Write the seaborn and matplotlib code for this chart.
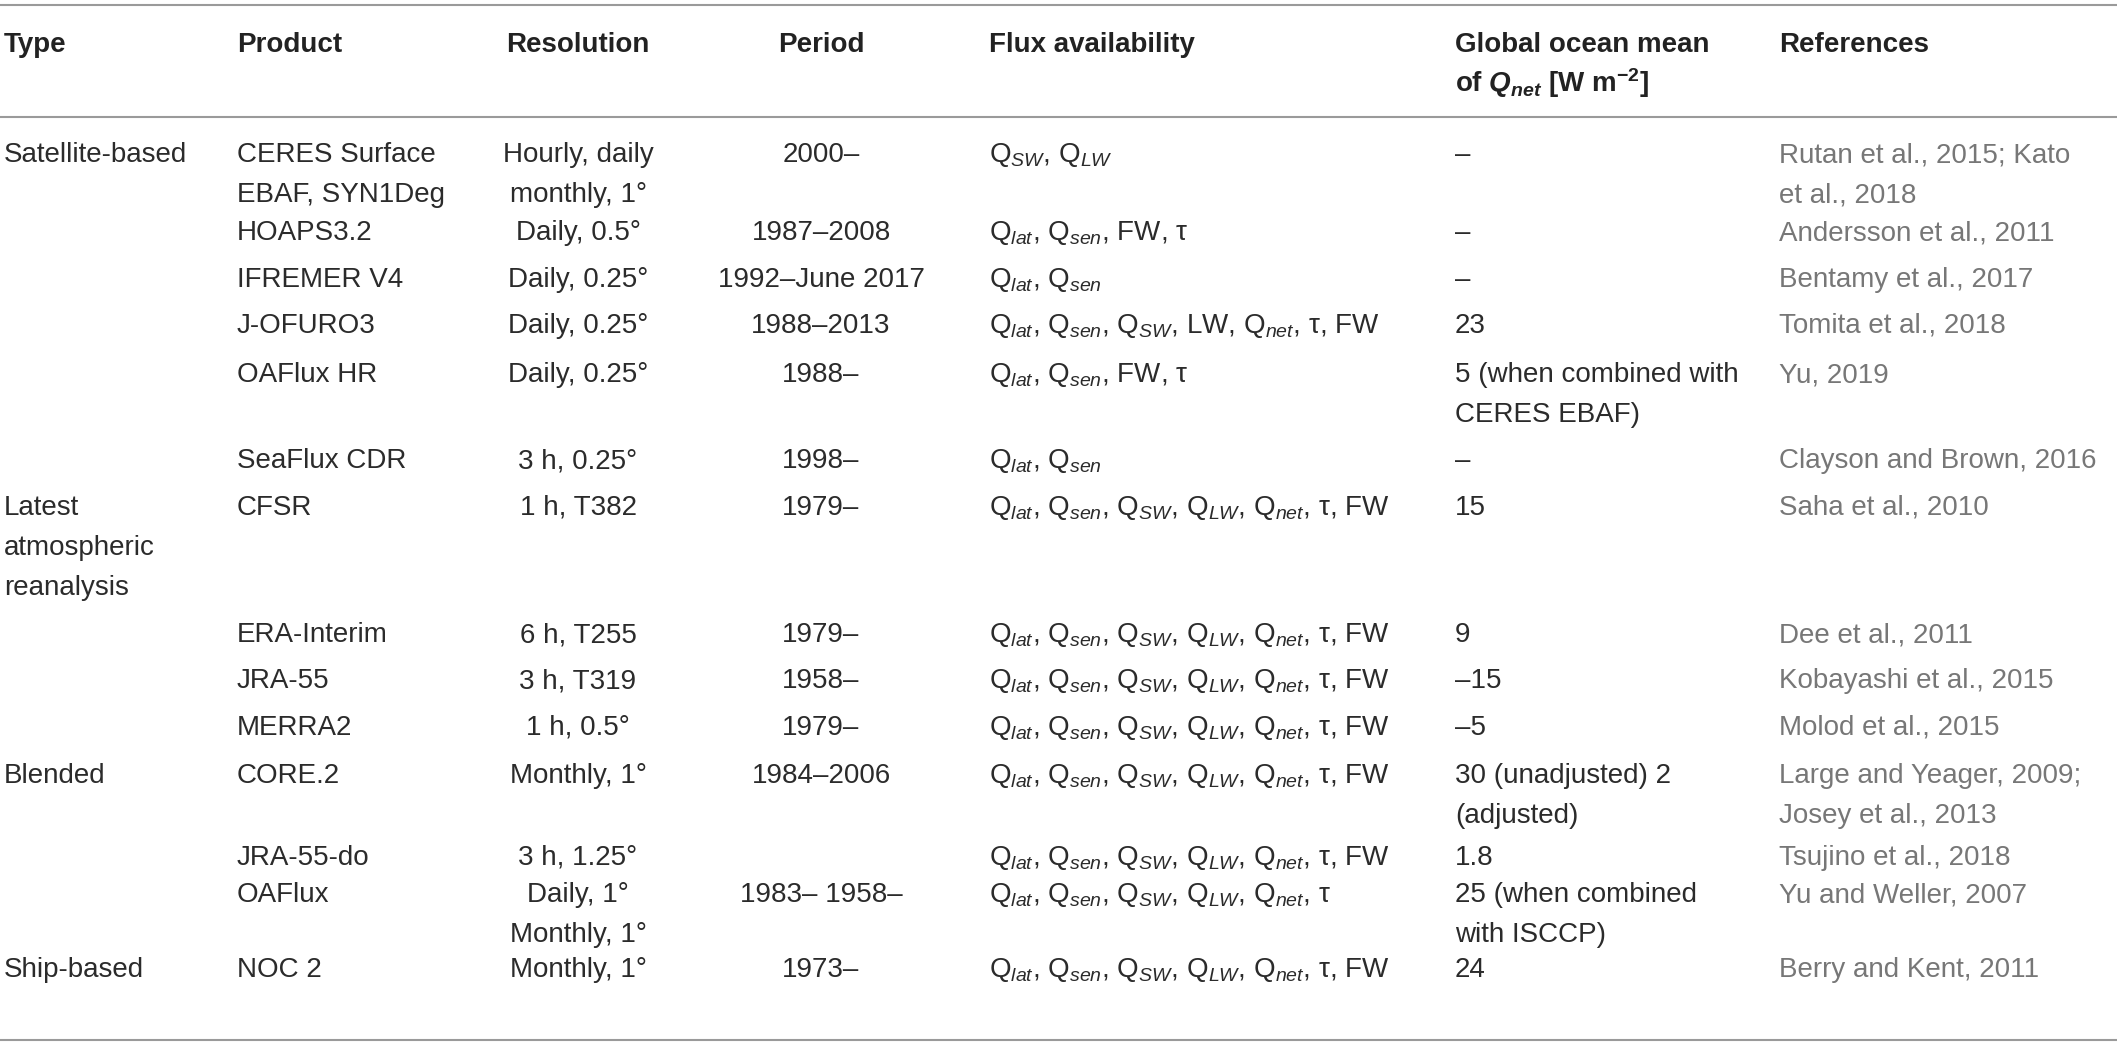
import matplotlib
matplotlib.use("Agg")
import matplotlib.pyplot as plt
import seaborn as sns

# Table content
headers = ["Type", "Product", "Resolution", "Period", "Flux availability",
           "Global ocean mean\n" + r"of $\mathbfit{Q}_{\mathbfit{net}}$ [W m$^{\mathbf{-2}}$]",
           "References"]

types = ["Satellite-based", "", "", "", "", "", "Latest\natmospheric\nreanalysis",
         "", "", "", "Blended", "", "", "Ship-based"]

products = ["CERES Surface\nEBAF, SYN1Deg", "HOAPS3.2", "IFREMER V4", "J-OFURO3",
            "OAFlux HR", "SeaFlux CDR", "CFSR", "ERA-Interim", "JRA-55", "MERRA2",
            "CORE.2", "JRA-55-do", "OAFlux", "NOC 2"]

resolutions = ["Hourly, daily\nmonthly, 1°", "Daily, 0.5°", "Daily, 0.25°", "Daily, 0.25°",
               "Daily, 0.25°", "3 h, 0.25°", "1 h, T382", "6 h, T255", "3 h, T319",
               "1 h, 0.5°", "Monthly, 1°", "3 h, 1.25°", "Daily, 1°\nMonthly, 1°",
               "Monthly, 1°"]

periods = ["2000–", "1987–2008", "1992–June 2017", "1988–2013", "1988–", "1998–",
           "1979–", "1979–", "1958–", "1979–", "1984–2006", "", "1983– 1958–", "1973–"]

Q = lambda s: r"$\mathrm{Q}_{\mathit{%s}}$" % s
full_set = ", ".join([Q("lat"), Q("sen"), Q("SW"), Q("LW"), Q("net")]) + ", τ, FW"
fluxes = [Q("SW") + ", " + Q("LW"),
          Q("lat") + ", " + Q("sen") + ", FW, τ",
          Q("lat") + ", " + Q("sen"),
          ", ".join([Q("lat"), Q("sen"), Q("SW")]) + ", LW, " + Q("net") + ", τ, FW",
          Q("lat") + ", " + Q("sen") + ", FW, τ",
          Q("lat") + ", " + Q("sen"),
          full_set, full_set, full_set, full_set, full_set, full_set,
          ", ".join([Q("lat"), Q("sen"), Q("SW"), Q("LW"), Q("net")]) + ", τ",
          full_set]

qnet_means = ["–", "–", "–", "23", "5 (when combined with\nCERES EBAF)", "–", "15", "9",
              "–15", "–5", "30 (unadjusted) 2\n(adjusted)", "1.8",
              "25 (when combined\nwith ISCCP)", "24"]

references = ["Rutan et al., 2015; Kato\net al., 2018", "Andersson et al., 2011",
              "Bentamy et al., 2017", "Tomita et al., 2018", "Yu, 2019",
              "Clayson and Brown, 2016", "Saha et al., 2010", "Dee et al., 2011",
              "Kobayashi et al., 2015", "Molod et al., 2015",
              "Large and Yeager, 2009;\nJosey et al., 2013", "Tsujino et al., 2018",
              "Yu and Weller, 2007", "Berry and Kent, 2011"]

# Layout (pixels, baselines)
W, H = 2117, 1045
col_x = [4, 237, 578, 821, 989, 1455, 1779]
col_ha = ["left", "left", "center", "center", "left", "left", "left"]
row_base = [162, 240, 287, 333, 382, 468, 515, 642, 688, 735, 783, 865, 902, 977]
header_base = 52
line_step = 40
rules_y = [5, 117, 1040]

sns.set_theme(style="white")
plt.rcParams["font.family"] = ["Liberation Sans", "DejaVu Sans"]
plt.rcParams["mathtext.fontset"] = "custom"
plt.rcParams["mathtext.rm"] = "Liberation Sans"
plt.rcParams["mathtext.it"] = "Liberation Sans:italic"
plt.rcParams["mathtext.bf"] = "Liberation Sans:bold"
plt.rcParams["mathtext.bfit"] = "Liberation Sans:italic:bold"

fig = plt.figure(figsize=(W / 100, H / 100), dpi=100)
ax = fig.add_axes([0, 0, 1, 1])
ax.set_xlim(0, W)
ax.set_ylim(H, 0)
ax.axis("off")

for y in rules_y:
    ax.axhline(y, color="#9a9a9a", lw=1.5)

fs = 20
text_color = "#2b2b2b"
ref_color = "#777777"


def put(x, y, s, ha, color=text_color, weight="normal"):
    for i, line in enumerate(s.split("\n")):
        ax.text(x, y + i * line_step, line, ha=ha, va="baseline",
                fontsize=fs, color=color, fontweight=weight)


for j, h in enumerate(headers):
    put(col_x[j], header_base, h, col_ha[j], color="#222222", weight="bold")

columns = [types, products, resolutions, periods, fluxes, qnet_means, references]
for j, col in enumerate(columns):
    color = ref_color if j == 6 else text_color
    for i, val in enumerate(col):
        if val:
            put(col_x[j], row_base[i], val, col_ha[j], color=color)

fig.savefig("out.png", dpi=100, facecolor="white")
plt.close(fig)
